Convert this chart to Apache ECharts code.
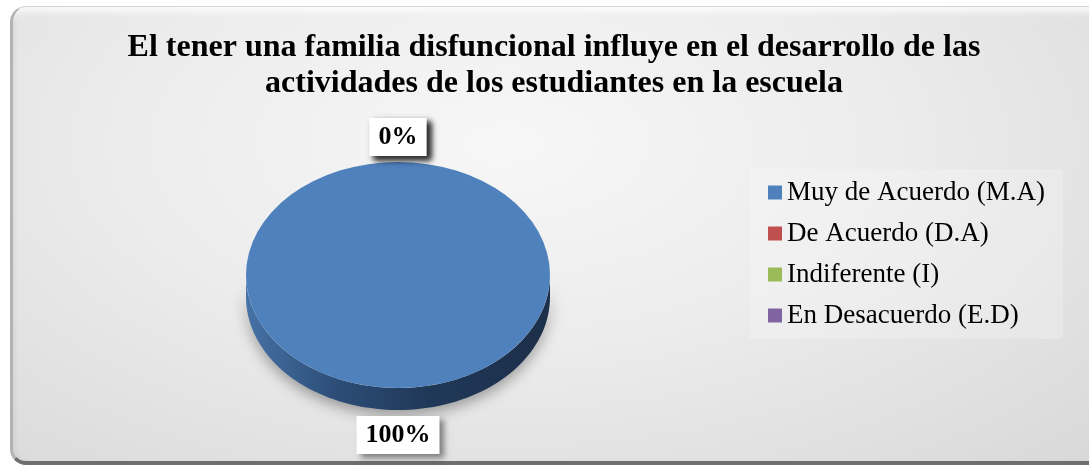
<!DOCTYPE html>
<html>
<head>
<meta charset="utf-8">
<script src="https://cdn.jsdelivr.net/npm/echarts@6/dist/echarts.min.js"></script>
<style>
  html, body { margin: 0; padding: 0; background: #ffffff; overflow: hidden; }
  .frame {
    position: absolute; left: 10px; top: 6px; width: 1092px; height: 454px;
    border-radius: 16px;
    border-left: 3px solid #b3b3b3; border-top: 1px solid #d4d4d4; border-bottom: 4px solid #6e6e6e;
    background: radial-gradient(ellipse at 45% 30%, #f7f7f7 0%, #ececec 45%, #d8d8d8 100%);
    box-shadow: inset 0 12px 8px -8px rgba(255,255,255,0.95), inset 4px 0 6px -3px rgba(0,0,0,0.08);
  }
  #pieChart { position: absolute; left: 0; top: 0; width: 1089px; height: 471px; }
</style>
</head>
<body>
<div class="frame"></div>
<div id="pieChart"></div>
<script>
  // datos de la encuesta
  var categorias = ['Muy de Acuerdo (M.A)', 'De Acuerdo (D.A)', 'Indiferente (I)', 'En Desacuerdo (E.D)']
  var valores = [100, 0, 0, 0]
  var colores = ['#4f81bd', '#c0504d', '#9bbb59', '#8064a2']
  var lados = [
    ['#4672a6', '#2c4d77', '#203858', '#1c2f4a'],
    ['#a84442', '#7d2f2d', '#5e2220', '#521d1c'],
    ['#88a54d', '#617739', '#4a5b2c', '#404f26'],
    ['#70588f', '#4f3e66', '#3c2f4e', '#342944']
  ]

  var titulo = 'El tener una familia disfuncional influye en el desarrollo de las\nactividades de los estudiantes en la escuela'

  var cx = 398, cy = 275, rx = 152, ry = 113, depth = 22
  var total = valores.reduce(function (a, b) { return a + b }, 0)

  function angulos(i) {
    var acum = 0
    for (var k = 0; k < i; k++) acum += valores[k]
    var a0 = -Math.PI / 2 + 2 * Math.PI * acum / total
    var a1 = a0 + 2 * Math.PI * valores[i] / total
    return [a0, a1]
  }

  function renderSlice(idx) {
    return function (params, api) {
      var v = api.value(0)
      var ang = angulos(idx)
      var a0 = ang[0], a1 = ang[1]
      var children = []

      // lado (cara frontal del pastel 3D)
      var lo = Math.max(a0, 0), hi = Math.min(a1, Math.PI)
      if (v > 0 && hi > lo) {
        var pts = [], n = 80, t
        for (var s = 0; s <= n; s++) {
          t = lo + (hi - lo) * s / n
          pts.push([cx + rx * Math.cos(t), cy + ry * Math.sin(t)])
        }
        for (s = n; s >= 0; s--) {
          t = lo + (hi - lo) * s / n
          pts.push([cx + rx * Math.cos(t), cy + ry * Math.sin(t) + depth])
        }
        children.push({
          type: 'polygon',
          shape: { points: pts },
          style: {
            fill: new echarts.graphic.LinearGradient(0, 0, 1, 0, [
              { offset: 0, color: lados[idx][0] },
              { offset: 0.3, color: lados[idx][1] },
              { offset: 0.6, color: lados[idx][2] },
              { offset: 1, color: lados[idx][3] }
            ]),
            shadowBlur: 14,
            shadowColor: 'rgba(0,0,0,0.35)',
            shadowOffsetY: 5
          }
        })
      }

      // cara superior
      if (v > 0) {
        children.push({
          type: 'sector',
          x: cx, y: cy, scaleY: ry / rx,
          shape: { cx: 0, cy: 0, r0: 0, r: rx, startAngle: a0, endAngle: a1, clockwise: true },
          style: { fill: colores[idx] }
        })
      }

      // etiqueta de porcentaje
      var am = (a0 + a1) / 2
      var off = 25
      var lx = cx + (rx + off) * Math.cos(am)
      var ly = cy + (ry + off) * Math.sin(am) + (Math.sin(am) > 0 ? depth : 0)
      children.push({
        type: 'text',
        x: lx, y: ly, z2: 10,
        style: {
          text: Math.round(v / total * 100) + '%',
          font: 'bold 26px "Liberation Serif", "Times New Roman", serif',
          fill: '#000000',
          align: 'center',
          verticalAlign: 'middle',
          backgroundColor: '#ffffff',
          padding: [7, 9, 5, 9],
          shadowBlur: 6,
          shadowColor: 'rgba(0,0,0,0.45)',
          shadowOffsetX: 4,
          shadowOffsetY: 4
        }
      })
      return { type: 'group', children: children }
    }
  }

  var series = []
  categorias.forEach(function (name, i) {
    series.push({
      name: name,
      type: 'custom',
      coordinateSystem: 'none',
      itemStyle: { color: colores[i] },
      z: i === 0 ? 2 : 3,
      renderItem: renderSlice(i),
      data: [[valores[i]]]
    })
  })

  var option = {
    backgroundColor: 'transparent',
    color: colores,
    animation: false,
    title: {
      text: titulo,
      left: 549,
      top: 25,
      textAlign: 'center',
      textStyle: {
        fontFamily: '"Liberation Serif", "Times New Roman", serif',
        fontWeight: 'bold',
        fontSize: 32,
        lineHeight: 36,
        color: '#000000'
      }
    },
    legend: {
      orient: 'vertical',
      left: 750,
      top: 169,
      padding: [10, 18],
      backgroundColor: 'rgba(255,255,255,0.22)',
      icon: 'rect',
      itemWidth: 14,
      itemHeight: 14,
      itemGap: 14,
      itemTextGap: 6,
      selectedMode: false,
      data: categorias,
      textStyle: {
        fontFamily: '"Liberation Serif", "Times New Roman", serif',
        fontSize: 27,
        color: '#000000'
      }
    },
    series: series
  }

  var myChart = echarts.init(document.getElementById('pieChart'))
  myChart.setOption(option)
  window.addEventListener('resize', function () { myChart.resize() })
</script>
</body>
</html>
